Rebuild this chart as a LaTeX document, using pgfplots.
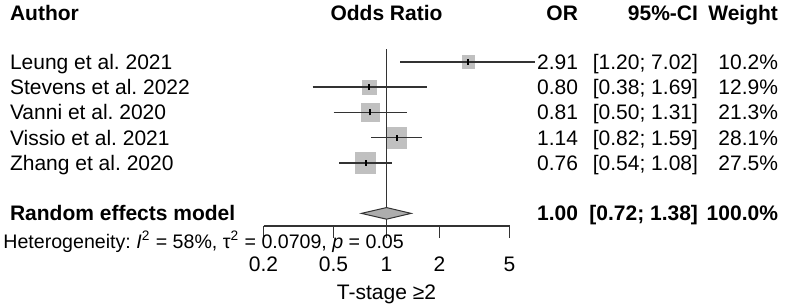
\documentclass[border=0pt]{standalone}
\usepackage{fontspec}
\setmainfont{Liberation Sans}
\usepackage{pgfplots}
\pgfplotsset{compat=1.18}
\definecolor{sqgray}{HTML}{C0C0C0}
\definecolor{ln}{HTML}{333333}
\newcommand{\fs}{\fontsize{10.5bp}{12bp}\selectfont}
\frenchspacing
\begin{document}
\begin{tikzpicture}[x=0.5bp,y=0.5bp,font=\fs]
\useasboundingbox (0,0) rectangle (789,305);
\begin{axis}[at={(131.75bp,39.5bp)}, anchor=south west, scale only axis,
  width=123bp, height=88.375bp, xmode=log, xmin=0.2, xmax=5, ymin=0.5, ymax=7.5,
  clip=false, clip mode=individual, axis y line=none, axis x line*=bottom,
  x axis line style={-, draw=ln, line width=0.75bp},
  xtick={0.2,0.5,1,2,5}, xticklabels={0.2,0.5,1,2,5}, xminorticks=false,
  tick align=outside, major tick length=6bp,
  xtick style={draw=ln, line width=0.75bp},
  xticklabel style={font=\fs, anchor=base, yshift=-16.75bp},
  /pgf/number format/assume math mode=true]
% squares
\addplot[only marks, mark=square*, color=sqgray, mark size=3.11bp] coordinates {(2.91,7)};
\addplot[only marks, mark=square*, color=sqgray, mark size=3.50bp] coordinates {(0.80,6)};
\addplot[only marks, mark=square*, color=sqgray, mark size=4.50bp] coordinates {(0.81,5)};
\addplot[only marks, mark=square*, color=sqgray, mark size=5.17bp] coordinates {(1.14,4)};
\addplot[only marks, mark=square*, color=sqgray, mark size=5.11bp] coordinates {(0.76,3)};
% CI lines
\addplot[draw=ln, line width=0.7bp] coordinates {(1.20,7) (7.02,7)};
\addplot[draw=ln, line width=0.7bp] coordinates {(0.38,6) (1.69,6)};
\addplot[draw=ln, line width=0.7bp] coordinates {(0.50,5) (1.31,5)};
\addplot[draw=ln, line width=0.7bp] coordinates {(0.82,4) (1.59,4)};
\addplot[draw=ln, line width=0.7bp] coordinates {(0.54,3) (1.08,3)};
% point ticks
\addplot[draw=black, line width=1bp] coordinates {(2.91,6.88) (2.91,7.12)};
\addplot[draw=black, line width=1bp] coordinates {(0.80,5.88) (0.80,6.12)};
\addplot[draw=black, line width=1bp] coordinates {(0.81,4.88) (0.81,5.12)};
\addplot[draw=black, line width=1bp] coordinates {(1.14,3.88) (1.14,4.12)};
\addplot[draw=black, line width=1bp] coordinates {(0.76,2.88) (0.76,3.12)};
% reference line
\addplot[draw=ln, line width=0.75bp] coordinates {(1,0.5) (1,7.5)};
% diamond
\addplot[fill=sqgray!90!black, draw=ln, line width=0.5bp] coordinates {(0.72,1) (1,1.23) (1.38,1) (1,0.77)} -- cycle;
\end{axis}
% headers
\node[anchor=base west, font=\fs\bfseries] at (3,284.5) {Author};
\node[anchor=base, font=\fs\bfseries] at (386.5,284.5) {Odds Ratio};
\node[anchor=base east, font=\fs\bfseries] at (585,284.5) {OR};
\node[anchor=base east, font=\fs\bfseries] at (705,284.5) {95\%-CI};
\node[anchor=base east, font=\fs\bfseries] at (785,284.5) {Weight};
% rows
\foreach \n/\o/\c/\w [count=\i from 0] in {Leung et al. 2021/2.91/{[1.20; 7.02]}/10.2\%,
  Stevens et al. 2022/0.80/{[0.38; 1.69]}/12.9\%,
  Vanni et al. 2020/0.81/{[0.50; 1.31]}/21.3\%,
  Vissio et al. 2021/1.14/{[0.82; 1.59]}/28.1\%,
  Zhang et al. 2020/0.76/{[0.54; 1.08]}/27.5\%}{
  \pgfmathsetmacro{\yy}{305-69.4-25.25*\i}
  \node[anchor=base west] at (3,\yy) {\n};
  \node[anchor=base east] at (585,\yy) {\o};
  \node[anchor=base east] at (705,\yy) {\c};
  \node[anchor=base east] at (785,\yy) {\w};
}
\node[anchor=base west, font=\fs\bfseries] at (3,84.1) {Random effects model};
\node[anchor=base east, font=\fs\bfseries] at (585,84.1) {1.00};
\node[anchor=base east, font=\fs\bfseries] at (705,84.1) {[0.72; 1.38]};
\node[anchor=base east, font=\fs\bfseries] at (785,84.1) {100.0\%};
\node[anchor=base west, inner xsep=0pt, font=\fontsize{9.8bp}{11bp}\selectfont] at (3,57) {Heterogeneity: \textit{I}\textsuperscript{2} = 58\%, τ\textsuperscript{2} = 0.0709, \textit{p} = 0.05};
\node[anchor=base] at (386.5,6) {T-stage ≥2};
\end{tikzpicture}
\end{document}
